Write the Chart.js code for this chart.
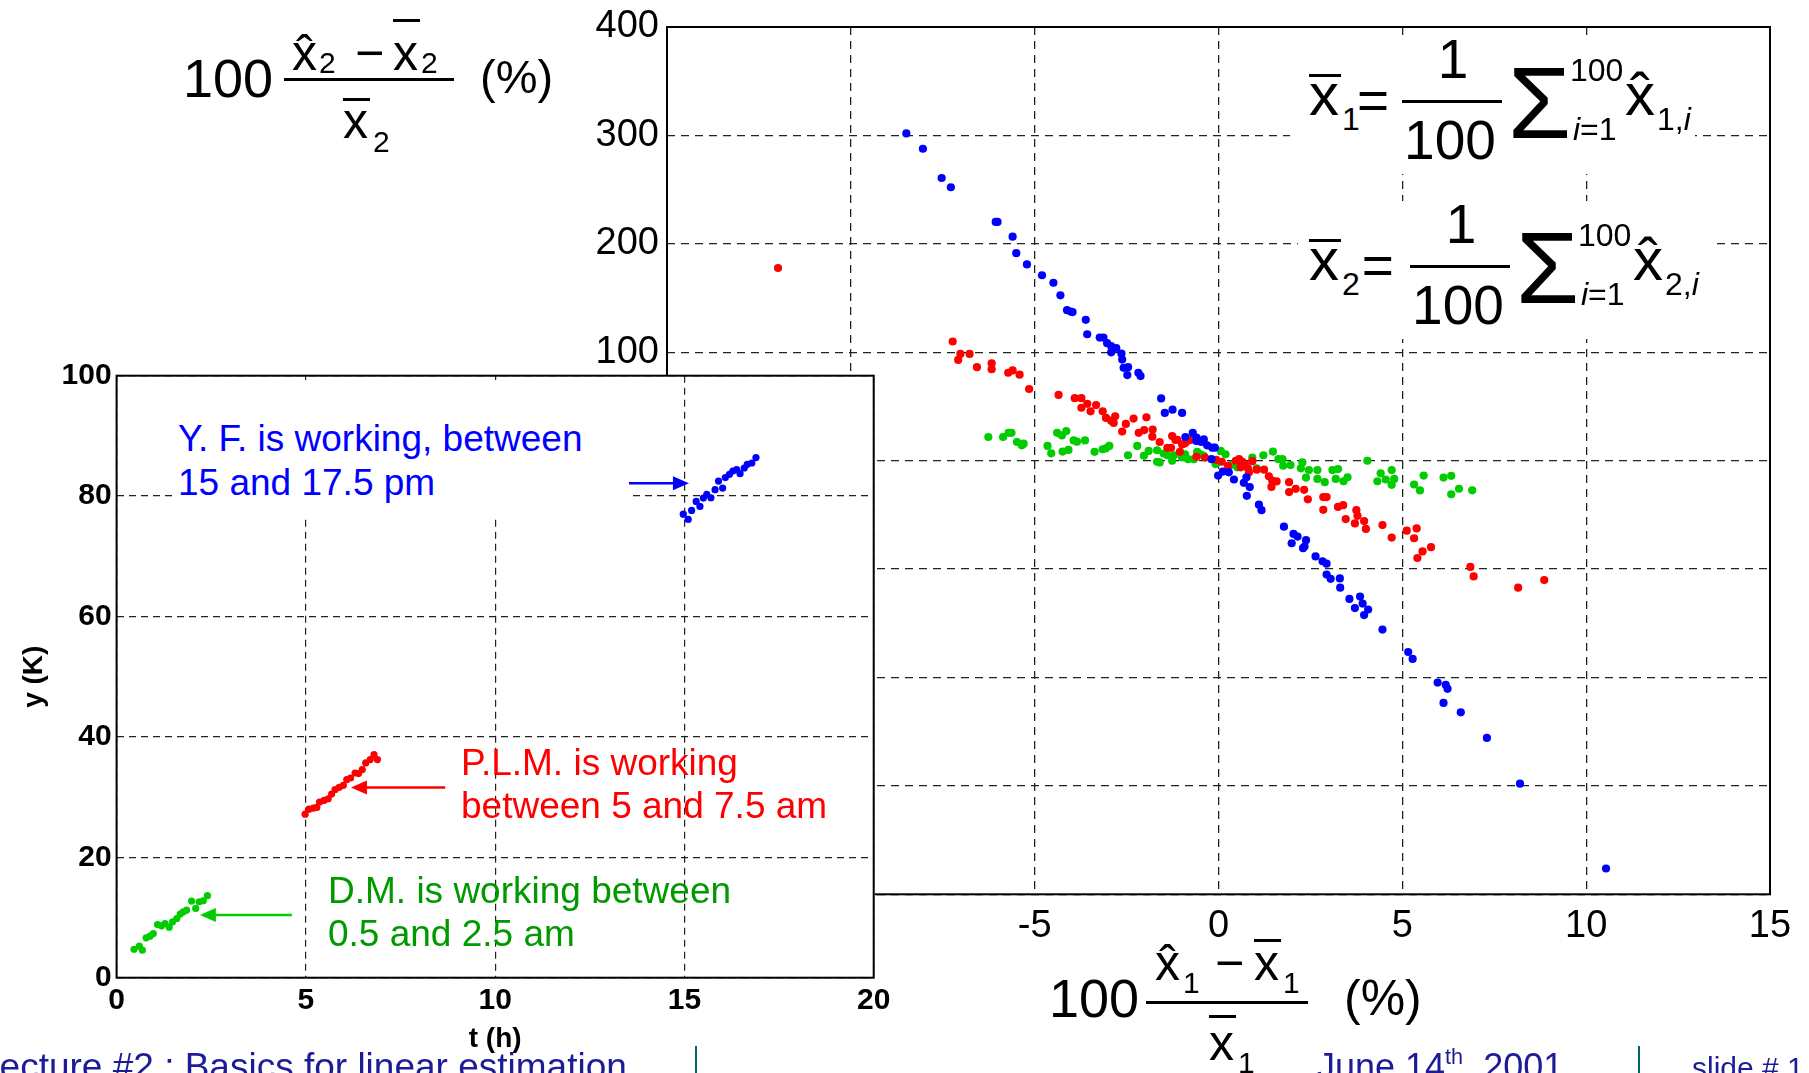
<!DOCTYPE html>
<html>
<head>
<meta charset="utf-8">
<script src="https://cdn.jsdelivr.net/npm/chart.js@4.4.1/dist/chart.umd.min.js"></script>
<style>
  html, body { margin: 0; padding: 0; background: #fff; overflow: hidden; width: 1809px; height: 1073px; }
  body { position: relative; font-family: "Liberation Sans", Arial, sans-serif; }
  canvas { position: absolute; }
  .t { position: absolute; line-height: 1; white-space: nowrap; }
  .r { position: absolute; }
</style>
</head>
<body>
<canvas id="main" width="1809" height="1073" style="left:0;top:0"></canvas>
<script>
// Hauptdiagramm: Abweichung x1 (%) gegen Abweichung x2 (%)
const mainBlue = [
  [-8.49, 301.8], [-8.04, 287.7], [-7.53, 260.7], [-7.28, 252.2], [-6.06, 220.2], [-6.01, 220.2],
  [-5.60, 206.6], [-5.50, 191.4], [-5.21, 181.0], [-4.80, 171.0], [-4.49, 164.1], [-4.30, 152.5],
  [-4.12, 138.8], [-4.02, 137.5], [-3.97, 137.0], [-3.61, 129.9], [-3.57, 116.6], [-3.23, 113.5],
  [-3.13, 113.5], [-3.03, 108.4], [-2.92, 105.7], [-2.78, 103.9], [-2.92, 99.9], [-2.64, 98.7],
  [-2.62, 93.2], [-2.58, 85.6], [-2.46, 86.2], [-2.48, 78.9], [-2.18, 81.1], [-2.12, 78.0],
  [-1.56, 57.4], [-1.46, 44.0], [-1.25, 47.0], [-0.99, 44.0], [-0.90, 21.8], [-0.70, 25.7],
  [-0.60, 21.2], [-0.60, 18.1], [-0.47, 17.2], [-0.40, 19.6], [-0.31, 14.1], [-0.17, 12.0],
  [-0.10, 12.0], [-0.19, 1.4], [-0.01, -13.8], [0.12, -10.1], [0.28, -10.8], [0.42, -17.4],
  [0.76, -15.3], [0.69, -20.5], [0.85, -24.4], [0.77, -32.4], [1.10, -40.6], [1.17, -45.7],
  [1.78, -60.9], [2.04, -67.6], [2.15, -70.0], [1.99, -76.2], [2.38, -73.4], [2.30, -80.7],
  [2.34, -79.2], [2.64, -88.3], [2.83, -92.8], [2.94, -95.0], [2.94, -105.0], [3.05, -109.0],
  [3.30, -108.6], [3.31, -117.2], [3.56, -127.5], [3.85, -125.4], [3.71, -136.0], [3.92, -131.8],
  [4.07, -137.3], [3.96, -142.4], [4.46, -155.8], [5.16, -176.5], [5.28, -182.9], [5.96, -204.7],
  [6.18, -206.8], [6.23, -210.5], [6.12, -223.5], [6.59, -232.1], [7.30, -255.8], [8.20, -298.0],
  [10.54, -376.2]
];
const mainRed = [
  [-11.98, 177.7], [-7.23, 109.9], [-7.02, 98.4], [-7.08, 92.9], [-6.77, 98.4], [-6.57, 86.2],
  [-6.17, 89.8], [-6.17, 84.4], [-5.72, 81.1], [-5.60, 83.2], [-5.41, 79.3], [-5.15, 66.1],
  [-4.35, 60.6], [-3.91, 57.6], [-3.73, 57.6], [-3.57, 52.4], [-3.73, 48.8], [-3.33, 51.3],
  [-3.48, 45.5], [-3.15, 45.5], [-3.06, 39.4], [-2.92, 36.9], [-2.81, 40.9], [-2.85, 34.8],
  [-2.52, 33.9], [-2.62, 26.9], [-2.31, 38.8], [-1.96, 40.0], [-2.17, 25.7], [-2.02, 28.2],
  [-1.79, 28.7], [-1.80, 22.1], [-1.60, 17.2], [-1.26, 22.7], [-1.17, 19.1], [-1.39, 11.8],
  [-1.29, 11.8], [-1.05, 8.1], [-0.99, 15.0], [-0.85, 18.1], [-0.76, 19.1], [-1.12, 19.1],
  [-0.91, 16.0], [-0.60, 3.6], [-0.37, 2.9], [-0.06, 0.8], [0.09, -1.0], [0.26, -4.7],
  [0.47, -0.1], [0.56, 1.4], [0.65, -1.0], [0.72, -3.5], [0.60, -6.2], [0.80, -7.1],
  [0.92, -0.5], [0.83, -10.8], [1.04, -8.3], [1.24, -8.3], [1.37, -14.4], [1.46, -18.3],
  [1.58, -19.2], [1.44, -24.2], [1.92, -19.9], [1.92, -29.0], [2.10, -26.0], [2.33, -26.9],
  [2.43, -35.7], [2.85, -33.6], [2.94, -33.6], [2.85, -45.4], [3.25, -42.7], [3.39, -41.1],
  [3.46, -53.9], [3.75, -45.7], [3.78, -50.9], [3.71, -57.9], [3.96, -55.7], [4.01, -63.0],
  [4.46, -59.4], [4.71, -71.0], [5.12, -64.6], [5.39, -62.5], [5.32, -71.6], [5.55, -83.7],
  [5.41, -89.8], [5.78, -79.8], [6.85, -98.0], [6.94, -106.8], [8.15, -117.2], [8.86, -110.2]
];
const mainGreen = [
  [-6.26, 21.8], [-5.86, 21.8], [-5.71, 25.7], [-5.63, 25.7], [-5.48, 17.2], [-5.35, 14.1],
  [-5.30, 15.7], [-4.65, 13.6], [-4.55, 6.8], [-4.39, 25.7], [-4.26, 23.3], [-4.14, 27.3],
  [-4.24, 8.4], [-4.08, 9.9], [-3.94, 18.7], [-3.85, 17.5], [-3.63, 18.7], [-3.37, 8.1],
  [-3.15, 10.5], [-3.06, 11.4], [-2.97, 13.6], [-2.46, 5.0], [-2.21, 13.6], [-2.03, 4.5],
  [-1.90, 9.0], [-1.67, 9.6], [-1.67, -1.0], [-1.60, -1.6], [-1.49, 6.6], [-1.39, 5.0],
  [-1.26, -0.1], [-1.21, 5.0], [-0.99, 2.9], [-0.91, 5.9], [-0.83, 1.4], [-0.67, 1.4],
  [-0.58, 8.1], [-0.49, 5.9], [-0.40, 4.5], [-0.08, -3.2], [0.06, 9.0], [0.19, 5.9],
  [0.33, -4.1], [0.51, -6.2], [0.92, 2.9], [1.04, -7.1], [1.22, 5.0], [1.48, 8.4],
  [1.63, 1.4], [1.74, 1.4], [1.76, -4.7], [1.96, -4.1], [2.28, -1.6], [2.24, -7.1],
  [2.38, -15.6], [2.46, -8.7], [2.69, -8.7], [2.69, -16.9], [2.89, -19.9], [3.10, -8.7],
  [3.25, -7.8], [3.19, -16.9], [3.40, -19.0], [3.51, -15.3], [4.05, -0.1], [4.32, -19.0],
  [4.41, -11.7], [4.55, -17.4], [4.71, -8.7], [4.78, -16.9], [4.71, -22.3], [5.32, -22.0],
  [5.48, -27.5], [5.58, -13.8], [6.12, -15.6], [6.33, -14.0], [6.33, -31.0], [6.54, -25.9],
  [6.90, -27.4]
];
const mainXRange = [-15, 15];
const mainYRange = [-400, 400];

// Kleines Diagramm: y (K) gegen t (h)
const insetGreen = [
  [0.46, 4.73], [0.60, 5.23], [0.68, 4.57], [0.78, 6.62], [0.88, 6.90], [0.97, 7.33], [1.08, 8.83],
  [1.19, 8.62], [1.28, 9.00], [1.39, 8.40], [1.48, 9.28], [1.59, 9.83], [1.68, 10.57], [1.76, 10.95],
  [1.85, 11.23], [1.98, 12.73], [2.09, 11.50], [2.18, 12.62], [2.29, 12.78], [2.40, 13.62]
];
const insetRed = [
  [4.98, 27.17], [5.08, 28.00], [5.20, 28.17], [5.29, 28.28], [5.36, 29.17], [5.48, 29.45], [5.59, 29.73],
  [5.68, 30.50], [5.77, 31.23], [5.88, 31.62], [5.99, 31.95], [6.08, 32.90], [6.18, 33.17], [6.30, 34.00],
  [6.39, 33.90], [6.49, 34.57], [6.58, 35.67], [6.70, 36.23], [6.80, 37.07], [6.89, 36.23]
];
const insetBlue = [
  [14.97, 77.00], [15.10, 76.12], [15.19, 77.62], [15.31, 79.12], [15.41, 78.28], [15.50, 79.67],
  [15.59, 80.28], [15.70, 79.73], [15.81, 81.07], [15.90, 82.50], [16.01, 81.33], [16.08, 83.07],
  [16.19, 83.62], [16.28, 84.17], [16.38, 84.40], [16.47, 83.73], [16.58, 84.67], [16.66, 85.28],
  [16.78, 85.50], [16.89, 86.40]
];
const insetXRange = [0, 20];
const insetYRange = [0, 100];
// Pfeile zu den Texten (in Datenkoordinaten)
const insetArrowFrom = [[13.53, 82.15], [8.68, 31.6], [4.63, 10.4]];
const insetArrowTo = [[15.12, 82.15], [6.19, 31.6], [2.20, 10.4]];

const FONT = '"Liberation Sans", Arial, sans-serif';
const BLUE = '#0000ff';
const RED = '#ff0000';
const GREEN = '#00cc00';

function toPoints(list) {
  return list.map(function (p) { return { x: p[0], y: p[1] }; });
}

// Rahmen um die Zeichenfläche (wie MATLAB box on)
const boxPlugin = {
  id: 'box',
  afterDraw(chart) {
    const ctx = chart.ctx;
    const a = chart.chartArea;
    ctx.save();
    ctx.strokeStyle = '#000';
    ctx.lineWidth = 2;
    ctx.strokeRect(a.left, a.top, a.right - a.left, a.bottom - a.top);
    ctx.restore();
  }
};

const arrowPlugin = {
  id: 'arrows',
  afterDatasetsDraw(chart) {
    const ctx = chart.ctx;
    const xs = chart.scales.x;
    const ys = chart.scales.y;
    const colors = [BLUE, RED, GREEN];
    for (let i = 0; i < insetArrowFrom.length; i++) {
      let x1 = xs.getPixelForValue(insetArrowFrom[i][0]);
      let y1 = ys.getPixelForValue(insetArrowFrom[i][1]);
      let x2 = xs.getPixelForValue(insetArrowTo[i][0]);
      let y2 = ys.getPixelForValue(insetArrowTo[i][1]);
      let dir = Math.sign(x2 - x1);
      ctx.save();
      ctx.strokeStyle = colors[i];
      ctx.fillStyle = colors[i];
      ctx.lineWidth = 2.5;
      ctx.beginPath();
      ctx.moveTo(x1, y1);
      ctx.lineTo(x2 - dir * 12, y2);
      ctx.stroke();
      ctx.beginPath();
      ctx.moveTo(x2, y2);
      ctx.lineTo(x2 - dir * 16, y2 - 7);
      ctx.lineTo(x2 - dir * 16, y2 + 7);
      ctx.closePath();
      ctx.fill();
      ctx.restore();
    }
  }
};

function dataset(list, color, r) {
  return {
    data: toPoints(list),
    backgroundColor: color,
    borderWidth: 0,
    pointRadius: r,
    pointHoverRadius: r
  };
}

// --- Hauptdiagramm ---
const mainChart = new Chart(document.querySelector('#main'), {
  type: 'scatter',
  data: {
    datasets: [
      dataset(mainBlue, BLUE, 4.1),
      dataset(mainRed, RED, 4.1),
      dataset(mainGreen, GREEN, 4.1)
    ]
  },
  options: {
    responsive: false,
    animation: false,
    layout: { padding: { left: 567, right: 39, top: 20.5, bottom: 118.7 } },
    plugins: { legend: { display: false }, tooltip: { enabled: false } },
    scales: {
      x: {
        type: 'linear',
        min: mainXRange[0],
        max: mainXRange[1],
        ticks: { stepSize: 5, color: '#000', padding: 13, font: { family: FONT, size: 38, lineHeight: 1 } },
        grid: { color: '#222', lineWidth: 1.3, drawTicks: false },
        border: { display: false, dash: [8, 6] },
        afterFit(s) { s.height = 60; }
      },
      y: {
        type: 'linear',
        min: mainYRange[0],
        max: mainYRange[1],
        ticks: { stepSize: 100, color: '#000', padding: 8, font: { family: FONT, size: 38, lineHeight: 1 } },
        grid: { color: '#222', lineWidth: 1.3, drawTicks: false },
        border: { display: false, dash: [8, 6] },
        afterFit(s) { s.width = 100; }
      }
    }
  },
  plugins: [boxPlugin]
});

// --- Text-Helfer ---
function txt(str, x, base, size, opts) {
  opts = opts || {};
  let d = document.createElement('div');
  d.className = 't';
  d.innerHTML = str;
  d.style.left = x + 'px';
  d.style.top = (base - 0.8465 * size) + 'px';
  d.style.fontSize = size + 'px';
  d.style.color = opts.color || '#000';
  if (opts.weight) d.style.fontWeight = opts.weight;
  if (opts.center) d.style.transform = 'translateX(-50%)';
  document.body.appendChild(d);
  return d;
}
function rect(x, y, w, h, color) {
  let d = document.createElement('div');
  d.className = 'r';
  d.style.left = x + 'px';
  d.style.top = y + 'px';
  d.style.width = w + 'px';
  d.style.height = h + 'px';
  d.style.background = color || '#000';
  document.body.appendChild(d);
  return d;
}
function hatX(x, base, size) {
  txt('x', x, base, size);
  txt('\u02C6', x + size * 0.25, base, size, { center: true });
}
function barX(x, base, size, barY) {
  txt('x', x, base, size);
  rect(x, barY, size * 0.54, 3);
}

// Mittelwert-Formeln oben rechts (weisser Hintergrund)
function sumFormula(k, dy, dx, bx, bw) {
  rect(bx, 36 + dy, bw, 138, '#fff');
  barX(1309, 116 + dy, 60, 74 + dy);
  txt(k, 1342, 130 + dy, 32);
  txt('=', 1357 + dx * 0.6, 120 + dy, 55);
  txt('1', 1453 + dx, 79 + dy, 55, { center: true });
  rect(1402 + dx, 100 + dy, 100, 3);
  txt('100', 1450 + dx, 160 + dy, 55, { center: true });
  txt('\u03A3', 1508 + dx, 138 + dy, 102);
  txt('100', 1570 + dx, 81 + dy, 32);
  txt('<i>i</i>=1', 1573 + dx, 140 + dy, 32);
  hatX(1625 + dx, 116 + dy, 60);
  txt(k + ',<i>i</i>', 1657 + dx, 130 + dy, 32);
}
sumFormula('1', 0, 0, 1290, 405);
sumFormula('2', 165, 8, 1298, 416);

// y-Achsentitel (oben links)
txt('100', 183, 97, 54);
hatX(292, 70, 50);
txt('2', 319, 73, 30);
txt('\u2212', 355, 70, 50);
barX(393, 70, 50, 19);
txt('2', 421, 73, 30);
rect(284, 78, 170, 3);
barX(343, 138, 50, 98);
txt('2', 373, 152, 30);
txt('(%)', 480, 93, 47);

// x-Achsentitel (unten)
txt('100', 1049, 1017, 54);
hatX(1155, 980, 50);
txt('1', 1183, 993, 30);
txt('\u2212', 1215, 980, 50);
barX(1254, 980, 50, 939);
txt('1', 1283, 993, 30);
rect(1146, 1001, 162, 3);
barX(1209, 1060, 50, 1015);
txt('1', 1238, 1073, 30);
txt('(%)', 1344, 1015, 50);

// --- Kleines Diagramm ---
rect(0, 376, 875, 697, '#fff');
rect(860, 900, 25, 60, '#fff');
let insetCanvas = document.createElement('canvas');
insetCanvas.id = 'inset';
insetCanvas.width = 900;
insetCanvas.height = 730;
insetCanvas.style.left = '0px';
insetCanvas.style.top = '340px';
document.body.appendChild(insetCanvas);

const insetChart = new Chart(insetCanvas, {
  type: 'scatter',
  data: {
    datasets: [
      dataset(insetGreen, GREEN, 3.6),
      dataset(insetRed, RED, 3.6),
      dataset(insetBlue, BLUE, 3.6)
    ]
  },
  options: {
    responsive: false,
    animation: false,
    layout: { padding: { left: 0, right: 26.3, top: 35.7, bottom: 14.3 } },
    plugins: { legend: { display: false }, tooltip: { enabled: false } },
    scales: {
      x: {
        type: 'linear',
        min: insetXRange[0],
        max: insetXRange[1],
        ticks: { stepSize: 5, color: '#000', padding: 5, font: { family: FONT, size: 30, weight: 'bold' } },
        grid: { color: '#222', lineWidth: 1.2, drawTicks: false },
        border: { display: false, dash: [7, 5] },
        title: { display: true, text: 't (h)', color: '#000', padding: 0, font: { family: FONT, size: 28, weight: 'bold' } },
        afterFit(s) { s.height = 78; }
      },
      y: {
        type: 'linear',
        min: insetYRange[0],
        max: insetYRange[1],
        ticks: { stepSize: 20, color: '#000', padding: 5, font: { family: FONT, size: 30, weight: 'bold' } },
        grid: { color: '#222', lineWidth: 1.2, drawTicks: false },
        border: { display: false, dash: [7, 5] },
        title: { display: true, text: 'y (K)', color: '#000', padding: { top: 17, bottom: 0 }, font: { family: FONT, size: 28, weight: 'bold' } },
        afterFit(s) { s.width = 116.6; }
      }
    }
  },
  plugins: [boxPlugin, arrowPlugin]
});

// Beschriftungen im kleinen Diagramm
rect(172, 380, 457, 135, '#fff');
txt('Y. F. is working, between', 178, 451, 37, { color: BLUE });
txt('15 and 17.5 pm', 178, 495, 37, { color: BLUE });
txt('P.L.M. is working', 461, 775, 37, { color: RED });
txt('between 5 and 7.5 am', 461, 818, 37, { color: RED });
txt('D.M. is working between', 328, 903, 37, { color: '#009900' });
txt('0.5 and 2.5 am', 328, 946.6, 37, { color: '#009900' });

// Fusszeile der Folie
const footColor = '#1c1c96';
txt('Lecture #2 : Basics for linear estimation', -21, 1079, 37, { color: footColor });
txt('June 14<span style="font-size:0.6em;vertical-align:0.7em;line-height:0">th</span>, 2001', 1317, 1079, 36, { color: footColor });
txt('slide # 1', 1692, 1078, 30, { color: footColor });
rect(695, 1046, 2, 27, '#006666');
rect(1638, 1046, 2, 27, '#006666');
</script>
</body>
</html>
